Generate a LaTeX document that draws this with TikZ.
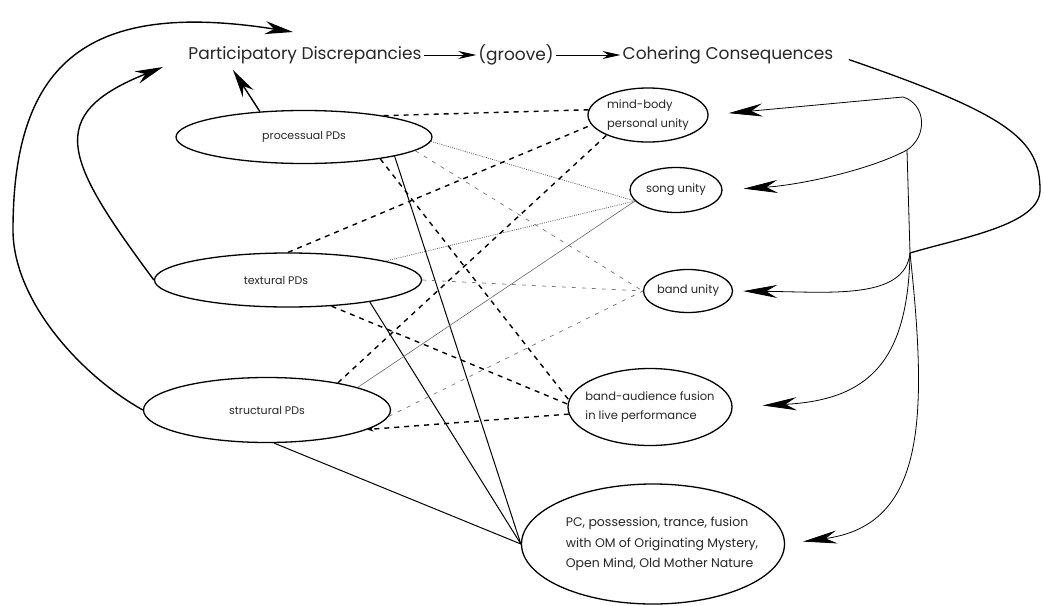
\documentclass[tikz,border=0pt]{standalone}
\usepackage{fontspec}
\setmainfont{Poppins}
\usetikzlibrary{arrows.meta,shapes,calc}
\tikzset{
  pdnode/.style={draw=black,ellipse,line width=1.3pt,inner sep=0pt},
  pdtext/.style={font=\fontsize{11}{13}\selectfont,text=black!85},
  ccnode/.style={draw=black,ellipse,line width=1.3pt,inner sep=0pt},
  cctext/.style={font=\fontsize{11.5}{19}\selectfont,align=left,text=black!85},
  headtext/.style={font=\fontsize{17}{20}\selectfont,text=black!85,inner sep=2pt},
  headarr/.style={-{Stealth[length=18pt,width=8pt]},line width=0.8pt},
  backarr/.style={-{Stealth[length=28pt,width=13pt]},line width=1.4pt},
  fanarr/.style={-{Stealth[length=34pt,width=13pt]},line width=0.8pt},
  heavydash/.style={line width=1.4pt,dash pattern=on 5pt off 5pt},
  lightdash/.style={line width=0.7pt,black!55,dash pattern=on 4pt off 6pt},
  dotline/.style={line width=0.8pt,black!60,dash pattern=on 1pt off 1.2pt},
  thinline/.style={line width=0.6pt,black!60},
  solidline/.style={line width=1pt}
}
\begin{document}
\begin{tikzpicture}[x=1pt,y=-1pt]
  \useasboundingbox (0,0) rectangle (1044,605);
  % headline
  \node[headtext] (pd) at (305,55) {Participatory Discrepancies};
  \node[headtext] (groove) at (516,55) {(groove)};
  \node[headtext] (cc) at (728,55) {Cohering Consequences};
  \draw[headarr] (pd) -- (groove);
  \draw[headarr] (groove) -- (cc);

  % kinds of PDs
  \node[pdnode,minimum width=256pt,minimum height=53pt,label={[pdtext]center:processual PDs}] (proc) at (304,137) {};
  \node[pdnode,minimum width=267pt,minimum height=54pt,label={[pdtext,xshift=-12pt]center:textural PDs}] (tex) at (288,280) {};
  \node[pdnode,minimum width=247pt,minimum height=65pt,label={[pdtext]center:structural PDs}] (str) at (267,410) {};

  % consequences
  \node[ccnode,minimum width=120pt,minimum height=54pt,label={[cctext]center:{mind-body\\personal unity}}] (mb) at (648,115) {};
  \node[ccnode,minimum width=92pt,minimum height=45pt,label={[cctext]center:song unity}] (song) at (676,190) {};
  \node[ccnode,minimum width=89pt,minimum height=43pt,label={[cctext]center:band unity}] (bu) at (688,291) {};
  \node[ccnode,minimum width=164pt,minimum height=77pt,label={[cctext]center:{band-audience fusion\\in live performance}}] (ba) at (650,407) {};
  \node[ccnode,minimum width=263pt,minimum height=120pt,label={[cctext,font=\fontsize{12.5}{20.5}\selectfont,xshift=9pt]center:{PC, possession, trance, fusion\\with OM of Originating Mystery,\\Open Mind, Old Mother Nature}}] (pc) at (653,544) {};

  % links between PDs and consequences
  \draw[heavydash] (proc.15) -- (mb.175);
  \draw[dotline] (proc.-2) -- (song.195);
  \draw[lightdash] (proc.-7) -- (bu.west);
  \draw[heavydash] (proc.-16) -- (ba.175);
  \draw[solidline] (proc.-12) -- (pc.west);

  \draw[heavydash] (tex.north) -- (mb.190);
  \draw[dotline] (tex.11) -- (song.195);
  \draw[lightdash] (tex.east) -- (bu.west);
  \draw[heavydash] (tex.-31) -- (ba.178);
  \draw[solidline] (tex.-15) -- (pc.west);

  \draw[heavydash] (str.21) -- (mb.206);
  \draw[thinline] (str.14) -- (song.195);
  \draw[lightdash] (str.-3) -- (bu.west);
  \draw[heavydash,-{Stealth[length=6pt,width=5pt]}] (ba.185) -- (str.-11);
  \draw[solidline] (str.-78) -- (pc.west);

  % feedback from consequences
  \coordinate (brtop) at (903,97);
  \coordinate (brmid) at (907,150);
  \coordinate (jn) at (910,253);
  \draw[line width=1.3pt,shorten <=14pt] (cc.east) .. controls (1010,115) and (1040,140) .. (1040,190)
    .. controls (1040,225) and (960,238) .. (jn);
  \draw[fanarr,shorten >=20pt] (brtop) -- (mb.east);
  \draw[fanarr,shorten >=21pt] (brtop) .. controls (926,104) and (928,136) .. (brmid)
    .. controls (870,170) and (800,185) .. (song.east);
  \draw[line width=0.8pt] (brmid) -- (jn);
  \draw[fanarr,shorten >=10pt] (jn) .. controls (905,300) and (830,292) .. (bu.east);
  \draw[fanarr,shorten >=30pt] (jn) .. controls (908,360) and (870,400) .. (ba.east);
  \draw[fanarr,shorten >=18pt] (jn) .. controls (928,420) and (925,525) .. (pc.east);

  % back to the PDs
  \coordinate (outtip) at (293,32);
  \coordinate (intip) at (163,67);
  \coordinate (shtip) at (233,70);
  \draw[backarr] (str.west) .. controls (80,375) and (13,300) .. (13,230)
    .. controls (13,60) and (90,0) .. (outtip);
  \draw[backarr] (tex.west) .. controls (65,160) and (43,115) .. (intip);
  \draw[backarr] (proc.150) -- (shtip);
\end{tikzpicture}
\end{document}
